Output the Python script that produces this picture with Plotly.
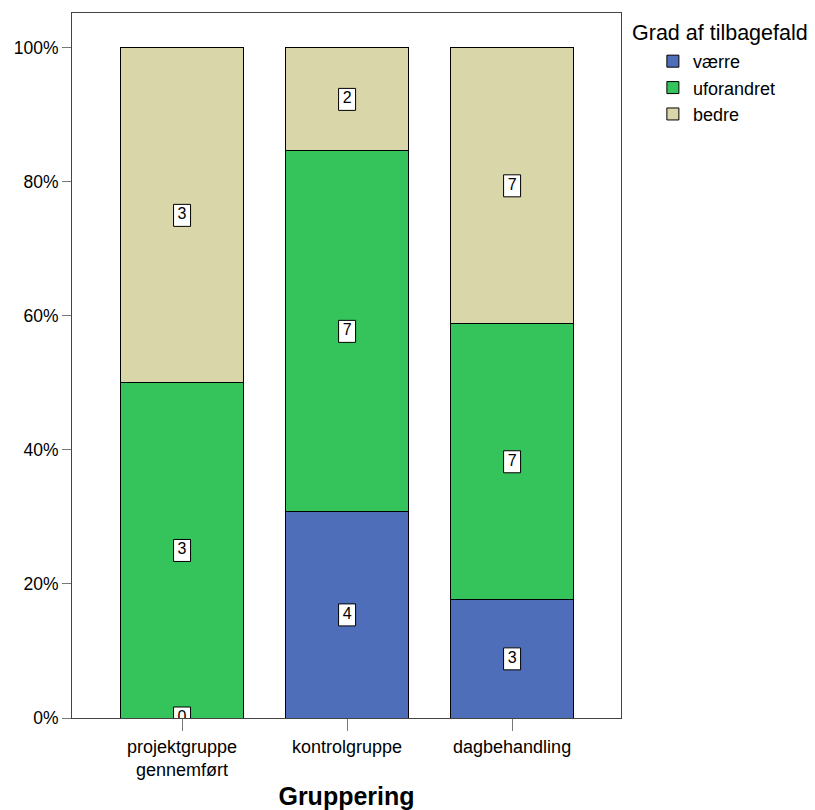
import plotly.graph_objects as go

categories = ["projektgruppe<br>gennemført", "kontrolgruppe", "dagbehandling"]
series_names = ["værre", "uforandret", "bedre"]
counts_vaerre = [0, 4, 3]
counts_uforandret = [3, 7, 7]
counts_bedre = [3, 2, 7]
colors = ["#4F6EBA", "#35C35B", "#D9D6A9"]
y_ticks = [0, 20, 40, 60, 80, 100]
y_tick_labels = ["0%", "20%", "40%", "60%", "80%", "100%"]
legend_title = "Grad af tilbagefald"
x_title = "Gruppering"

series_counts = [counts_vaerre, counts_uforandret, counts_bedre]
totals = [sum(s[i] for s in series_counts) for i in range(len(categories))]
xs = list(range(len(categories)))

FONT = "Arial, Liberation Sans, sans-serif"
fig = go.Figure()

for name, cnts, col in zip(series_names, series_counts, colors):
    pct = [c / t * 100 for c, t in zip(cnts, totals)]
    fig.add_trace(go.Bar(
        x=xs, y=pct, name=name, width=0.75,
        marker=dict(color=col, line=dict(color="#000000", width=1)),
        hoverinfo="skip",
    ))

# label boxes (drawn as clipped polygons) + text
X_PER_PX = 1 / 165.0
Y_PER_PX = 1 / 6.7
hw = 8.5 * X_PER_PX
hh = 11 * Y_PER_PX
lx, ly, lt = [], [], []
bx, by = [], []
for i in xs:
    base = 0.0
    for cnts in series_counts:
        p = cnts[i] / totals[i] * 100
        c = base + p / 2
        lx.append(i)
        ly.append(c)
        lt.append(str(cnts[i]))
        bx += [i - hw, i + hw, i + hw, i - hw, i - hw, None]
        by += [c - hh, c - hh, c + hh, c + hh, c - hh, None]
        base += p

fig.add_trace(go.Scatter(
    x=bx, y=by, mode="lines", fill="toself", fillcolor="white",
    line=dict(color="#000000", width=1), showlegend=False,
    cliponaxis=True, hoverinfo="skip", connectgaps=False,
))
fig.add_trace(go.Scatter(
    x=lx, y=ly, text=lt, mode="text", textposition="middle center",
    textfont=dict(family=FONT, size=16, color="#000000"),
    showlegend=False, cliponaxis=True, hoverinfo="skip",
))

fig.update_layout(
    barmode="stack",
    width=815, height=810,
    margin=dict(l=72, r=194, t=13, b=92, autoexpand=False),
    paper_bgcolor="white", plot_bgcolor="white",
    font=dict(family=FONT, size=18, color="#000000"),
    legend=dict(
        x=1.018, y=0.9575, xanchor="left", yanchor="top",
        font=dict(size=18), tracegroupgap=0, traceorder="normal",
        indentation=22,
    ),
    showlegend=True,
    annotations=[dict(
        text=legend_title, xref="paper", yref="paper", x=1.0164, y=0.9716,
        xanchor="left", yanchor="middle", showarrow=False,
        font=dict(size=21.5, color="#000000"),
    )],
)
fig.update_xaxes(
    range=[-0.667, 2.66], tickmode="array", tickvals=xs, ticktext=categories,
    showline=True, linecolor="#444444", linewidth=1, mirror=True,
    ticks="outside", ticklen=12, tickcolor="#777777",
    showgrid=False, zeroline=False, automargin=False,
    title=dict(text="<b>" + x_title + "</b>", font=dict(size=25), standoff=12),
    tickfont=dict(size=18),
)
fig.update_yaxes(
    range=[0, 105.2], tickmode="array", tickvals=y_ticks, ticktext=y_tick_labels,
    showline=True, linecolor="#444444", linewidth=1, mirror=True,
    ticks="outside", ticklen=9, tickcolor="#777777", automargin=False,
    showgrid=False, zeroline=False, tickfont=dict(size=17.5),
)

fig.write_html("out.html")
